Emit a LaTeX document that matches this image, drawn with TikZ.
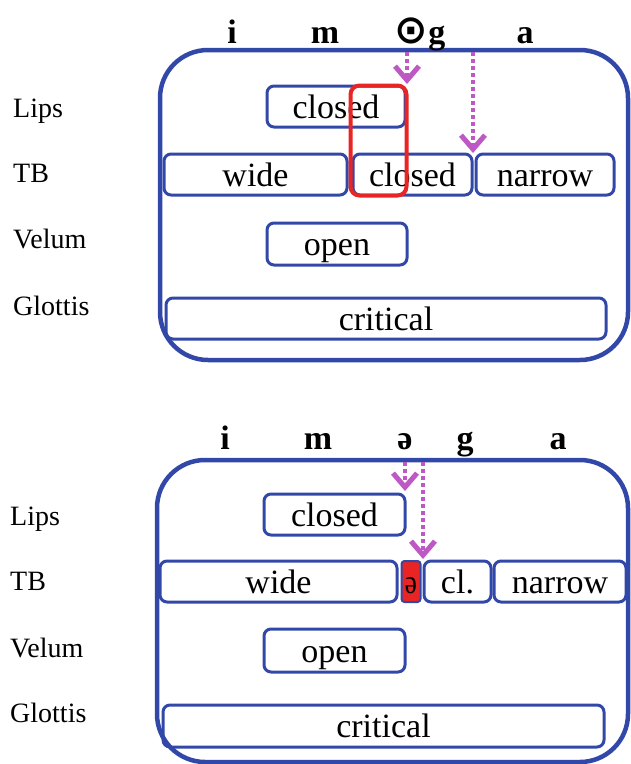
\documentclass[tikz,border=0pt]{standalone}
\usepackage{fontspec}
\setmainfont{Liberation Serif}
\newfontfamily\symfont{DejaVu Sans}
\usetikzlibrary{arrows.meta}

\definecolor{frameblue}{RGB}{50,72,168}
\definecolor{markred}{RGB}{232,36,36}
\definecolor{gestpink}{RGB}{190,88,196}

\tikzset{
  frame/.style={draw=frameblue, line width=4.5pt, rounded corners=48pt},
  gbox/.style={draw=frameblue, line width=3pt, rounded corners=7pt, inner sep=0pt,
    font=\fontsize{34}{40}\selectfont, text height=23pt, text depth=0pt},
  tierlabel/.style={anchor=base west, inner sep=0pt, font=\fontsize{28}{32}\selectfont},
  seglabel/.style={anchor=base, inner sep=0pt, font=\fontsize{34}{40}\selectfont\bfseries},
  shiftarrow/.style={draw=gestpink, line width=4.2pt, dash pattern=on 4pt off 3pt,
    -{Straight Barb[length=14pt, width=24pt, line width=5pt]}},
  redframe/.style={draw=markred, line width=4pt, rounded corners=9pt, inner sep=0pt}
}

\begin{document}
\begin{tikzpicture}[x=1pt, y=-1pt]
  \useasboundingbox (0,0) rectangle (630,764);

  % ---------- upper panel: i m (o)g a ----------
  \draw[frame] (160,50) rectangle (628,360);
  \coordinate (fA1) at (407,52);
  \coordinate (fA2) at (473,52);

  \node[seglabel] (iA) at (232,43) {i};
  \node[seglabel] (mA) at (325,43) {m};
  \node[seglabel] (gA) at (420,43) {{\symfont\bfseries\fontsize{40}{40}\selectfont ⊙}g};
  \node[seglabel] (aA) at (525,43) {a};

  \node[tierlabel] (lipsLA)  at (13,117) {Lips};
  \node[tierlabel] (tbLA)    at (13,182) {TB};
  \node[tierlabel] (velLA)   at (13,248) {Velum};
  \node[tierlabel] (glotLA)  at (13,315) {Glottis};

  \node[gbox, minimum width=138pt, minimum height=41pt] (lipsA) at (336,106.5) {closed};
  \node[gbox, minimum width=183pt, minimum height=41pt] (wideA) at (255.5,174.5) {wide};
  \node[gbox, minimum width=119pt, minimum height=41pt] (closedA) at (412.5,174.5) {closed};
  \node[gbox, minimum width=138pt, minimum height=41pt] (narrowA) at (545,174.5) {narrow};
  \node[gbox, minimum width=140pt, minimum height=42pt] (openA) at (337,244) {open};
  \node[gbox, minimum width=440pt, minimum height=41pt] (critA) at (386,318.5) {critical};

  \node[redframe, minimum width=56pt, minimum height=110pt] (markA) at (378.5,140.5) {};

  \coordinate (tA1) at (407,84);
  \coordinate (tA2) at (473,153);
  \draw[shiftarrow] (fA1) -- (tA1);
  \draw[shiftarrow] (fA2) -- (tA2);

  % ---------- lower panel: i m schwa g a ----------
  \draw[frame] (157,460) rectangle (628,762);
  \coordinate (fB1) at (405,462);
  \coordinate (fB2) at (423,462);

  \node[seglabel] (iB) at (225,449) {i};
  \node[seglabel] (mB) at (318,449) {m};
  \node[seglabel] (schB) at (405,449) {ə};
  \node[seglabel] (gB) at (465,449) {g};
  \node[seglabel] (aB) at (558,449) {a};

  \node[tierlabel] (lipsLB)  at (10,525) {Lips};
  \node[tierlabel] (tbLB)    at (10,590) {TB};
  \node[tierlabel] (velLB)   at (10,657) {Velum};
  \node[tierlabel] (glotLB)  at (10,722) {Glottis};

  \node[gbox, minimum width=141pt, minimum height=41pt] (lipsB) at (334.5,514.5) {closed};
  \node[gbox, minimum width=237pt, minimum height=41pt] (wideB) at (278.5,581.5) {wide};
  \node[gbox, fill=markred, line width=2pt, rounded corners=3pt,
        minimum width=19pt, minimum height=41pt] (schwaB) at (411,581.5) {\scalebox{0.8}[1]{ə}};
  \node[gbox, minimum width=67pt, minimum height=41pt] (clB) at (457.5,581.5) {cl.};
  \node[gbox, minimum width=132pt, minimum height=41pt] (narrowB) at (560,581.5) {narrow};
  \node[gbox, minimum width=141pt, minimum height=43pt] (openB) at (334.5,650.5) {open};
  \node[gbox, minimum width=441pt, minimum height=42pt] (critB) at (383.5,726) {critical};

  \coordinate (tB1) at (405,491);
  \coordinate (tB2) at (423,559);
  \draw[shiftarrow] (fB1) -- (tB1);
  \draw[shiftarrow] (fB2) -- (tB2);
\end{tikzpicture}
\end{document}
